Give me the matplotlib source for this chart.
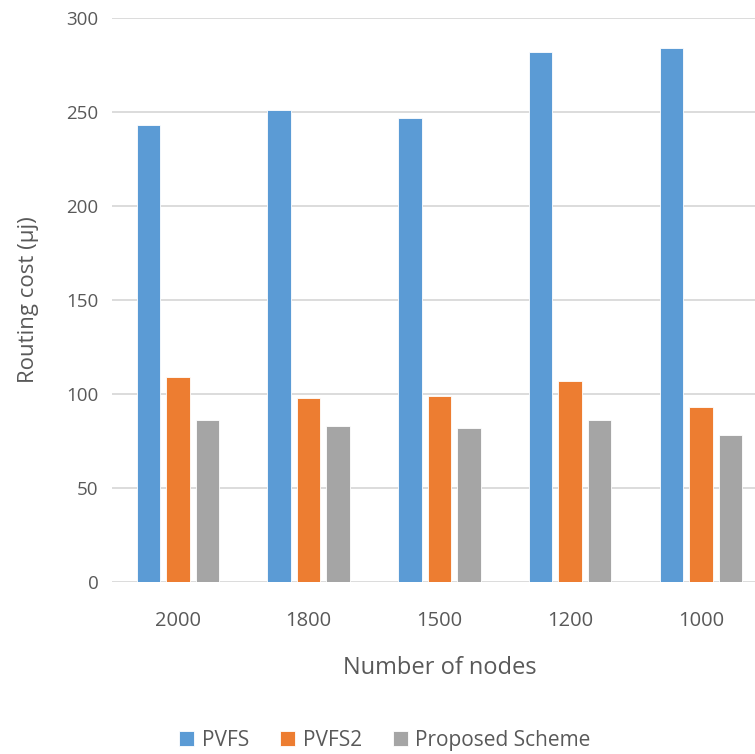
import matplotlib
matplotlib.use("Agg")
import matplotlib.pyplot as plt
import numpy as np

categories = ["2000", "1800", "1500", "1200", "1000"]
pvfs = [243, 251, 247, 282, 284]
pvfs2 = [109, 98, 99, 107, 93]
proposed = [86, 83, 82, 86, 78]
series_names = ["PVFS", "PVFS2", "Proposed Scheme"]
colors = ["#5b9bd5", "#ed7d31", "#a5a5a5"]

plt.rcParams['font.family'] = ['Open Sans', 'DejaVu Sans']

fig = plt.figure(figsize=(7.55, 7.54), dpi=100)
ax = fig.add_axes([0.149, 0.228, 0.866, 0.748])

x = np.arange(len(categories))
off = 0.226
w = 0.18
for i, (vals, name, c) in enumerate(zip([pvfs, pvfs2, proposed], series_names, colors)):
    ax.bar(x + (i - 1) * off, vals, width=w, color=c, label=name, zorder=3,
           edgecolor='white', linewidth=0.6)

ax.set_xlim(-0.5, len(categories) - 0.5)
ax.set_ylim(0, 300)
ax.set_yticks(range(0, 301, 50))
ax.set_xticks(x)
ax.set_xticklabels(categories)
ax.grid(axis='y', color='#d9d9d9', linewidth=1.3, zorder=0)
for s in ax.spines.values():
    s.set_visible(False)
ax.tick_params(axis='y', length=0, labelsize=13.5, colors='#595959', pad=10)
ax.tick_params(axis='x', length=0, labelsize=14.5, colors='#595959', pad=21)
ax.set_xlabel("Number of nodes", fontsize=17, color='#595959', labelpad=18)
ax.set_ylabel("Routing cost (μj)", fontsize=16, color='#595959', labelpad=20)

leg = fig.legend(loc='center', bbox_to_anchor=(0.51, 0.018), ncol=3, frameon=False,
                 fontsize=15, handlelength=0.72, handleheight=0.72, columnspacing=1.5,
                 handletextpad=0.35, labelcolor='#595959')

fig.savefig("out.png", dpi=100)
